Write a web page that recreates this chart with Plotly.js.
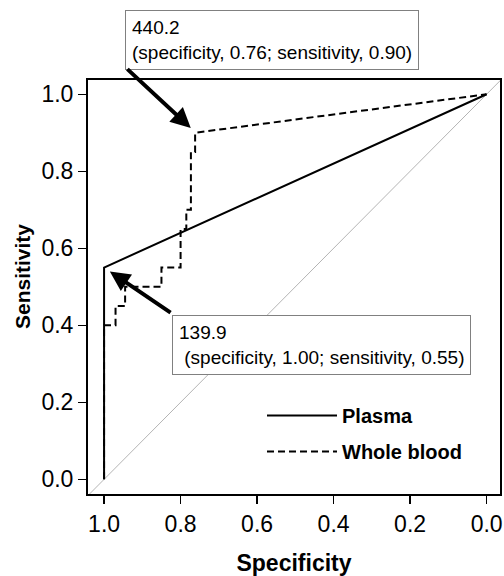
<!DOCTYPE html>
<html>
<head>
<meta charset="utf-8">
<script src="https://cdn.plot.ly/plotly-3.0.1.min.js"></script>
<style>html,body{margin:0;padding:0;background:#fff;}#chart{width:504px;height:576px;}</style>
</head>
<body>
<div id="chart"></div>
<script>
// Plasma ROC curve
const plasmaSpec = [1.0, 1.0, 0.0];
const plasmaSens = [0.0, 0.55, 1.0];
// Whole blood ROC curve
const wbSpec = [1.0, 1.0, 0.97, 0.97, 0.945, 0.945, 0.85, 0.85, 0.80, 0.80, 0.785, 0.785, 0.773, 0.773, 0.762, 0.762, 0.0];
const wbSens = [0.0, 0.40, 0.40, 0.45, 0.45, 0.50, 0.50, 0.55, 0.55, 0.65, 0.65, 0.70, 0.70, 0.85, 0.85, 0.90, 1.0];
// chance line
const chanceSpec = [1.1, -0.1];
const chanceSens = [-0.1, 1.1];
const tickVals = [1.0, 0.8, 0.6, 0.4, 0.2, 0.0];
const tickText = ['1.0', '0.8', '0.6', '0.4', '0.2', '0.0'];
// cut-off annotations
const cutPoints = [
  {spec: 0.76, sens: 0.90, label: '440.2<br>(specificity, 0.76; sensitivity, 0.90)'},
  {spec: 1.00, sens: 0.55, label: '139.9<br> (specificity, 1.00; sensitivity, 0.55)'}
];

const FONT = 'Arial, "Liberation Sans", Helvetica, sans-serif';

const traces = [
  {x: chanceSpec, y: chanceSens, mode: 'lines', line: {color: '#b4b4b4', width: 1}, showlegend: false, hoverinfo: 'skip'},
  {x: wbSpec, y: wbSens, mode: 'lines', name: 'Whole blood', legendgroup: 'b', legendrank: 2,
   line: {color: '#000', width: 2, dash: '7px,4px'}},
  {x: plasmaSpec, y: plasmaSens, mode: 'lines', name: 'Plasma', legendgroup: 'a', legendrank: 1,
   line: {color: '#000', width: 2}}
];

const axisCommon = {
  showline: true, linecolor: '#000', linewidth: 2, mirror: true,
  ticks: 'outside', ticklen: 8, tickwidth: 1.5, tickcolor: '#000',
  showgrid: false, zeroline: false,
  tickvals: tickVals, ticktext: tickText,
  tickfont: {family: FONT, size: 23, color: '#000'}
};

const annotations = [
  {xref: 'paper', yref: 'paper', x: (125-88)/412, y: (494-10)/414, xanchor: 'left', yanchor: 'top',
   text: cutPoints[0].label, showarrow: false, align: 'left',
   font: {family: FONT, size: 19, color: '#000'}, bordercolor: '#808080', borderwidth: 1, borderpad: 6, bgcolor: '#fff'},
  {xref: 'paper', yref: 'paper', x: (172-88)/412, y: (494-315)/414, xanchor: 'left', yanchor: 'top',
   text: cutPoints[1].label, showarrow: false, align: 'left',
   font: {family: FONT, size: 19, color: '#000'}, bordercolor: '#808080', borderwidth: 1, borderpad: 6, bgcolor: '#fff'},
  {xref: 'x', yref: 'y', x: cutPoints[0].spec, y: cutPoints[0].sens, text: '', showarrow: true,
   ax: -70, ay: -65, arrowhead: 2, arrowsize: 1, arrowwidth: 4, arrowcolor: '#000', standoff: 7},
  {xref: 'x', yref: 'y', x: cutPoints[1].spec, y: cutPoints[1].sens, text: '', showarrow: true,
   ax: 68, ay: 46, arrowhead: 2, arrowsize: 1, arrowwidth: 4, arrowcolor: '#000', standoff: 7},
  {xref: 'paper', yref: 'paper', x: (22-88)/412, y: (494-277)/414, xanchor: 'center', yanchor: 'middle',
   text: 'Sensitivity', textangle: -90, showarrow: false,
   font: {family: FONT, size: 21, color: '#000', weight: 'bold'}}
];

const layout = {
  width: 504, height: 576,
  margin: {l: 88, r: 4, t: 80, b: 82},
  paper_bgcolor: '#fff', plot_bgcolor: '#fff',
  font: {family: FONT, color: '#000'},
  showlegend: true,
  legend: {x: (262-88)/412, y: (494-396)/414, xanchor: 'left', yanchor: 'top',
    bgcolor: 'rgba(0,0,0,0)', itemwidth: 70, tracegroupgap: 7,
    traceorder: 'grouped',
    font: {family: FONT, size: 20, color: '#000', weight: 'bold'}},
  xaxis: Object.assign({}, axisCommon, {
    range: [1.042, -0.035],
    title: {text: 'Specificity', font: {family: FONT, size: 23, color: '#000', weight: 'bold'}, standoff: 20}
  }),
  yaxis: Object.assign({}, axisCommon, {
    range: [-0.038, 1.037]
  }),
  annotations: annotations
};

Plotly.newPlot('chart', traces, layout, {displayModeBar: false, staticPlot: true});
</script>
</body>
</html>
